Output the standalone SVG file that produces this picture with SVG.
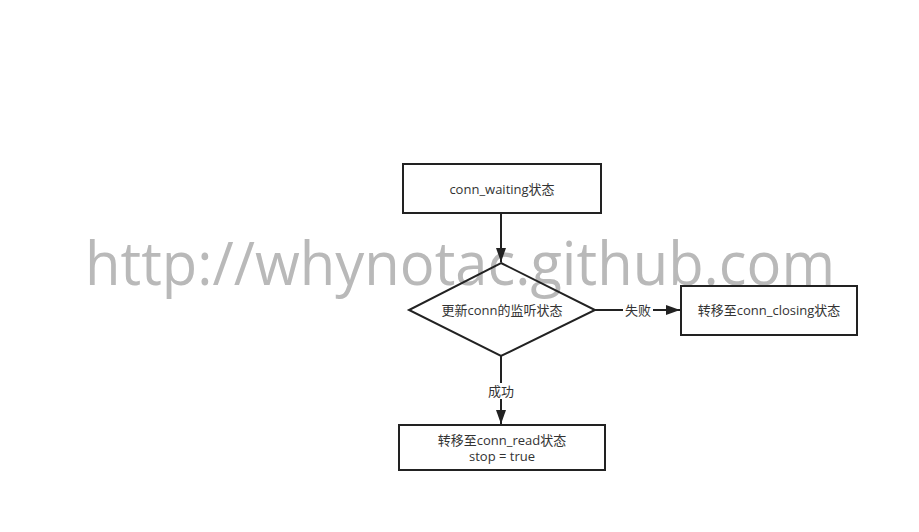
<svg xmlns="http://www.w3.org/2000/svg" width="919" height="532" viewBox="0 0 919 532">
  <style>
    .box { fill: none; stroke: #222; stroke-width: 2; }
    .edge { fill: none; stroke: #222; stroke-width: 2; }
    .lbl { font-family: "Open Sans", "Noto Sans CJK SC", sans-serif; font-size: 13px; fill: #333; text-anchor: middle; dominant-baseline: central; }
    .wm { font-family: "Open Sans", "Liberation Sans", sans-serif; font-size: 60px; fill: #b9b9b9; }
  </style>
  <defs>
    <marker id="arrow" viewBox="0 0 14 10" refX="14" refY="5" markerWidth="14" markerHeight="10" markerUnits="userSpaceOnUse" orient="auto">
      <path d="M0,0 L14,5 L0,10 z" fill="#222"/>
    </marker>
  </defs>

  <rect width="919" height="532" fill="#fff"/>

  <!-- watermark -->
  <text class="wm" x="85" y="285" textLength="750" lengthAdjust="spacingAndGlyphs">http://whynotac.github.com</text>

  <!-- connectors -->
  <g id="edges">
    <path class="edge" d="M501,213 L501,262" marker-end="url(#arrow)"/>
    <path class="edge" d="M595,310 L680,310" marker-end="url(#arrow)"/>
    <path class="edge" d="M501,356 L501,424" marker-end="url(#arrow)"/>
    <rect x="623" y="302" width="30" height="16" fill="#fff"/>
    <text class="lbl" x="638" y="310">失败</text>
    <rect x="486" y="383" width="30" height="16" fill="#fff"/>
    <text class="lbl" x="501" y="391">成功</text>
  </g>

  <g id="waiting">
    <rect class="box" x="403" y="164" width="198" height="49"/>
    <text class="lbl" x="502" y="189">conn_waiting状态</text>
  </g>

  <g id="update">
    <path class="box" d="M501,263 L595,310 L501,356 L409,310 Z"/>
    <text class="lbl" x="502" y="310">更新conn的监听状态</text>
  </g>

  <g id="closing">
    <rect class="box" x="681" y="286" width="176" height="49"/>
    <text class="lbl" x="769" y="310">转移至conn_closing状态</text>
  </g>

  <g id="read">
    <rect class="box" x="399" y="425" width="206" height="45"/>
    <text class="lbl" x="502" y="440">转移至conn_read状态</text>
    <text class="lbl" x="502" y="456">stop = true</text>
  </g>
</svg>
